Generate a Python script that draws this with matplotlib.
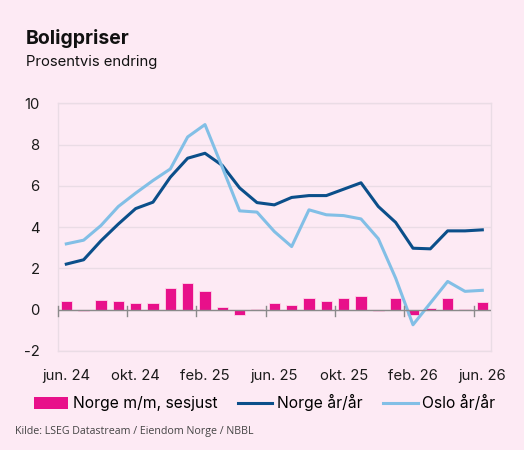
import matplotlib
matplotlib.use("Agg")
import matplotlib.pyplot as plt
from matplotlib.patches import Patch
from matplotlib.lines import Line2D
import numpy as np

months = ["jun. 24", "jul. 24", "aug. 24", "sep. 24", "okt. 24", "nov. 24", "des. 24",
          "jan. 25", "feb. 25", "mar. 25", "apr. 25", "mai 25", "jun. 25", "jul. 25",
          "aug. 25", "sep. 25", "okt. 25", "nov. 25", "des. 25", "jan. 26", "feb. 26",
          "mar. 26", "apr. 26", "mai 26", "jun. 26"]
norge_mm = [0.42, -0.06, 0.47, 0.40, 0.31, 0.34, 1.06, 1.31, 0.92, 0.11, -0.27, 0.04,
            0.31, 0.23, 0.55, 0.40, 0.58, 0.65, -0.06, 0.55, -0.24, 0.10, 0.55, 0.05, 0.35]
norge_aa = [2.21, 2.42, 3.34, 4.15, 4.90, 5.21, 6.42, 7.34, 7.58, 6.99, 5.90, 5.19,
            5.08, 5.44, 5.53, 5.53, 5.84, 6.15, 5.00, 4.23, 2.98, 2.95, 3.82, 3.82, 3.87]
oslo_aa = [3.19, 3.37, 4.08, 5.00, 5.65, 6.26, 6.82, 8.37, 8.97, 6.90, 4.79, 4.73,
           3.79, 3.06, 4.84, 4.60, 4.56, 4.40, 3.44, 1.53, -0.73, 0.32, 1.37, 0.89, 0.94]
tick_labels = ["jun. 24", "okt. 24", "feb. 25", "jun. 25", "okt. 25", "feb. 26", "jun. 26"]
yticks = [-2, 0, 2, 4, 6, 8, 10]

BG = "#FDEAF4"
PINK = "#E8108A"
DARK = "#0B4F8A"
LIGHT = "#82BFE6"
GRID = "#EADCE5"
FONT = ["Inter", "DejaVu Sans"]

plt.rcParams["font.family"] = FONT

fig = plt.figure(figsize=(5.24, 4.5), dpi=100, facecolor=BG)
ax = fig.add_axes([0.110, 0.22, 0.827, 0.5504], facecolor=BG)

x = np.arange(len(months))
ax.bar(x, norge_mm, width=0.65, color=PINK, edgecolor="#FFD6EA", linewidth=0.6, zorder=3)
ax.plot(x, norge_aa, color=DARK, lw=2.2, zorder=4, solid_joinstyle="round")
ax.plot(x, oslo_aa, color=LIGHT, lw=2.2, zorder=4, solid_joinstyle="round")

ax.set_xlim(-0.5, len(months) - 0.5)
ax.set_ylim(-2, 10)
ax.set_yticks(yticks)
ax.set_yticklabels([str(v) for v in yticks])
ax.grid(axis="y", color=GRID, lw=1.0, zorder=0)
for s in ax.spines.values():
    s.set_color(GRID)
    s.set_linewidth(1.0)

# x labels at category centers, no tick marks
label_idx = [months.index(t) for t in tick_labels]
ax.set_xticks(label_idx)
ax.set_xticklabels(tick_labels)
ax.tick_params(axis="x", length=0, pad=13, labelsize=10.7, colors="#1a1a1a")
ax.tick_params(axis="y", length=0, pad=13, labelsize=10.7, colors="#1a1a1a")

# zero axis line with boundary ticks
ax.axhline(0, color="#8a8a8a", lw=1.0, zorder=5)
for b in np.arange(-0.5, len(months), 4):
    ax.plot([b, b], [-0.3, 0.2], color="#8a8a8a", lw=1.0, zorder=5, clip_on=False)

fig.text(0.05, 0.903, "Boligpriser", fontsize=14, fontweight="bold", color="#111111")
fig.text(0.05, 0.853, "Prosentvis endring", fontsize=10.7, color="#111111")

handles = [Patch(facecolor=PINK, edgecolor="none"),
           Line2D([0], [0], color=DARK, lw=2.2),
           Line2D([0], [0], color=LIGHT, lw=2.2)]
labels = ["Norge m/m, sesjust", "Norge år/år", "Oslo år/år"]
fig.legend(handles, labels, loc="center", bbox_to_anchor=(0.505, 0.105), ncol=3,
           frameon=False, fontsize=11.3, handlelength=2.2, handletextpad=0.3,
           columnspacing=1.3, handleheight=0.8)

fig.text(0.028, 0.035, "Kilde: LSEG Datastream / Eiendom Norge / NBBL",
         fontsize=7.7, color="#444444", family=["Open Sans", "DejaVu Sans"])

fig.savefig("out.png", dpi=100, facecolor=BG)
